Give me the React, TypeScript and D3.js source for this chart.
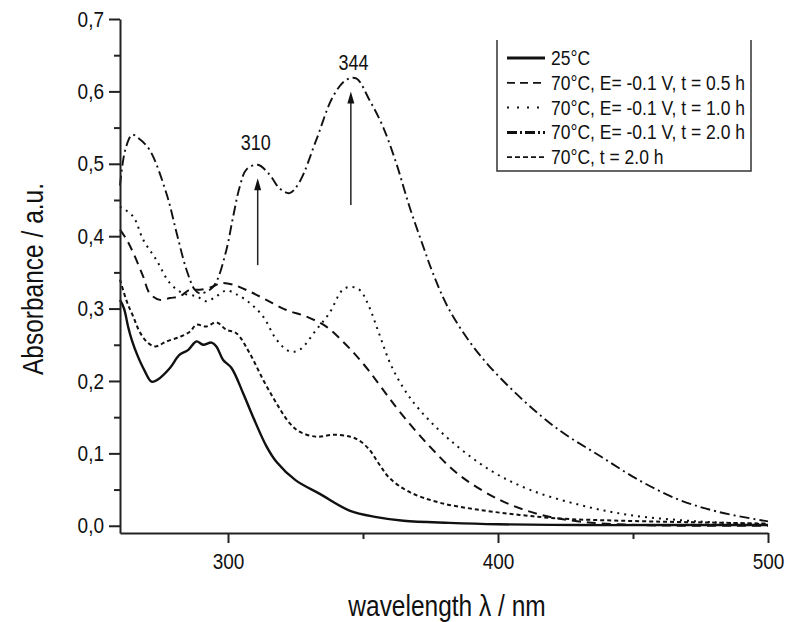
import React, { useEffect, useRef } from "react";
import * as d3 from "d3";

// 25°C
const nm25 = [260, 261.5, 263, 264.5, 266.5, 269, 271.7, 274, 278.5, 282, 285.3, 288.3, 290.8, 293.9, 295.7, 298.2, 301.3, 305.6, 309.2, 314.2, 318, 325, 334, 345, 355, 365, 382, 400, 430, 460, 500];
const abs25 = [0.312, 0.3, 0.275, 0.255, 0.235, 0.215, 0.199, 0.202, 0.218, 0.236, 0.243, 0.2546, 0.25, 0.253, 0.2477, 0.229, 0.218, 0.183, 0.151, 0.11, 0.088, 0.063, 0.044, 0.021, 0.012, 0.007, 0.004, 0.002, 0.001, 0.001, 0.001];

// 70°C, E= -0.1 V, t = 0.5 h
const nm05 = [260, 262.5, 264.9, 268.6, 271, 274.8, 278.5, 282.2, 285.9, 289.6, 294.5, 297, 301.9, 308, 314.2, 321.6, 329, 336.4, 342.5, 347, 352, 357, 363.5, 374.6, 385.7, 400.5, 415, 430, 452, 500];
const abs05 = [0.409, 0.395, 0.377, 0.344, 0.321, 0.312, 0.3145, 0.317, 0.326, 0.326, 0.3305, 0.335, 0.333, 0.3236, 0.312, 0.298, 0.289, 0.275, 0.2546, 0.237, 0.215, 0.19, 0.158, 0.11, 0.07, 0.036, 0.016, 0.006, 0.001, 0.0];

// 70°C, E= -0.1 V, t = 1.0 h
const nm10 = [260, 264.9, 268.6, 273.5, 278.5, 283.4, 288.3, 292, 295.7, 299.4, 303, 308, 313, 318, 322.8, 326.5, 332.7, 337.6, 342.5, 346, 349, 352, 356, 360, 365, 371, 382, 397, 411.6, 430, 448.5, 474, 500];
const abs10 = [0.441, 0.427, 0.395, 0.367, 0.335, 0.321, 0.317, 0.31, 0.317, 0.325, 0.32, 0.308, 0.289, 0.257, 0.241, 0.243, 0.2707, 0.294, 0.326, 0.33, 0.325, 0.305, 0.265, 0.225, 0.19, 0.16, 0.119, 0.077, 0.05, 0.029, 0.015, 0.006, 0.002];

// 70°C, E= -0.1 V, t = 2.0 h
const nm20E = [260, 262, 264.5, 267, 271, 277.2, 281, 284.6, 287.7, 289.6, 293.3, 295.7, 299.4, 301.9, 304.4, 306.8, 311, 315.4, 319.1, 322.8, 326.5, 332.7, 338.9, 343.8, 347.5, 352.4, 357.3, 362.3, 367.2, 372.1, 376, 382, 393, 408, 422.7, 437.5, 452.2, 467, 481.8, 500];
const abs20E = [0.47, 0.52, 0.54, 0.535, 0.519, 0.459, 0.404, 0.354, 0.326, 0.321, 0.326, 0.337, 0.381, 0.427, 0.469, 0.492, 0.4986, 0.485, 0.466, 0.4595, 0.475, 0.533, 0.593, 0.616, 0.618, 0.588, 0.552, 0.501, 0.441, 0.388, 0.348, 0.298, 0.237, 0.178, 0.132, 0.097, 0.063, 0.036, 0.019, 0.006];

// 70°C, t = 2.0 h
const nm20 = [260, 262.5, 264.9, 267, 269.8, 273, 277.2, 282.2, 285.9, 288.3, 292, 295.7, 299.4, 303.1, 308, 313, 317.9, 322.8, 326.5, 332.7, 338.9, 345, 348.5, 352.4, 356, 359.8, 367, 378.3, 393, 408, 422.7, 445, 470, 500];
const abs20 = [0.34, 0.31, 0.289, 0.27, 0.2546, 0.2477, 0.2546, 0.261, 0.268, 0.2776, 0.2753, 0.281, 0.2707, 0.266, 0.2385, 0.2017, 0.1695, 0.1418, 0.13, 0.123, 0.1257, 0.1234, 0.118, 0.105, 0.085, 0.066, 0.047, 0.032, 0.022, 0.015, 0.01, 0.007, 0.005, 0.003];

const xTicks = [300, 400, 500];
const xMinor = [350, 450];
const yTicks = [0, 0.1, 0.2, 0.3, 0.4, 0.5, 0.6, 0.7];
const yMinor = [0.05, 0.15, 0.25, 0.35, 0.45, 0.55, 0.65];

// peak markers: label, wavelength of arrow, arrow from / to
const peakLabels = ["310", "344"];
const peakNm = [311, 345.5];
const arrowFrom = [0.36, 0.443];
const arrowTo = [0.48, 0.6];
const labelNm = [310.3, 346.5];
const labelAbs = [0.519, 0.63];

const series = [
  { label: "25°C", nm: nm25, abs: abs25, dash: null, width: 2.4, legDash: null, legWidth: 3 },
  { label: "70°C, E= -0.1 V, t = 0.5 h", nm: nm05, abs: abs05, dash: "9,6", width: 2, legDash: "8,5", legWidth: 1.8 },
  { label: "70°C, E= -0.1 V, t = 1.0 h", nm: nm10, abs: abs10, dash: "2,5", width: 2, legDash: "2,8", legWidth: 2 },
  { label: "70°C, E= -0.1 V, t = 2.0 h", nm: nm20E, abs: abs20E, dash: "10,4,2,4", width: 1.9, legDash: "10,3,2,3", legWidth: 3 },
  { label: "70°C, t = 2.0 h", nm: nm20, abs: abs20, dash: "4,3", width: 2, legDash: "5,3", legWidth: 1.8 },
];

const FONT = "'Liberation Sans', Arial, sans-serif";
const STRETCH = 1.18; // text in the picture is a bit taller than wide

function addText(g: any, x: number, y: number, str: string, size: number, anchor = "start", rot = 0) {
  return g
    .append("text")
    .attr("transform", `translate(${x},${y}) rotate(${rot}) scale(1,${STRETCH})`)
    .attr("text-anchor", anchor)
    .attr("font-family", FONT)
    .attr("font-size", size)
    .attr("fill", "#111")
    .text(str);
}

function drawChart(el: SVGSVGElement) {
  const w = 788;
  const h = 622;
  const svg = d3.select(el);
  svg.selectAll("*").remove();
  svg.attr("width", w).attr("height", h);

  const x = d3.scaleLinear().domain([260, 500]).range([120, 768]);
  const y = d3.scaleLinear().domain([-0.01, 0.7]).range([533, 19]);

  // curves
  series.forEach((s) => {
    const pts: [number, number][] = s.nm.map((n, i) => [x(n), y(s.abs[i])]);
    const path = svg
      .append("path")
      .attr("d", d3.line().curve(d3.curveCatmullRom.alpha(0.5))(pts))
      .attr("fill", "none")
      .attr("stroke", "#111")
      .attr("stroke-width", s.width)
      .attr("stroke-linejoin", "round");
    if (s.dash) path.attr("stroke-dasharray", s.dash);
  });

  // axes
  const fmt = (d: number) => d3.format(".1f")(d).replace(".", ",");
  svg
    .append("g")
    .attr("transform", "translate(120,0)")
    .call(d3.axisLeft(y).tickValues(yTicks).tickFormat(fmt as any).tickSize(11).tickSizeOuter(0).tickPadding(5));
  svg
    .append("g")
    .attr("transform", "translate(120,0)")
    .call(d3.axisLeft(y).tickValues(yMinor).tickFormat(() => "").tickSize(6).tickSizeOuter(0))
    .call((g) => g.select(".domain").remove());

  svg
    .append("g")
    .attr("transform", "translate(0,533)")
    .call(d3.axisBottom(x).tickValues(xTicks).tickFormat(d3.format("d") as any).tickSize(10).tickSizeOuter(0).tickPadding(7));
  svg
    .append("g")
    .attr("transform", "translate(0,533)")
    .call(d3.axisBottom(x).tickValues(xMinor).tickFormat(() => "").tickSize(6).tickSizeOuter(0))
    .call((g) => g.select(".domain").remove());

  svg.selectAll(".domain, .tick line").attr("stroke", "#222").attr("stroke-width", 2);
  svg
    .selectAll(".tick text")
    .attr("font-family", FONT)
    .attr("font-size", 19)
    .attr("fill", "#111")
    .attr("transform", `scale(1,${STRETCH})`);

  // axis titles
  addText(svg, 447, 616, "wavelength λ / nm", 24.5, "middle");
  addText(svg, 43, 279, "Absorbance / a.u.", 24.5, "middle", -90);

  // peak arrows
  peakLabels.forEach((lab, i) => {
    const ax = x(peakNm[i]);
    const y0 = y(arrowFrom[i]);
    const y1 = y(arrowTo[i]);
    svg
      .append("line")
      .attr("x1", ax)
      .attr("x2", ax)
      .attr("y1", y0)
      .attr("y2", y1 + 8)
      .attr("stroke", "#222")
      .attr("stroke-width", 1.5);
    svg
      .append("path")
      .attr("d", `M${ax},${y1} L${ax - 3.5},${y1 + 12} L${ax + 3.5},${y1 + 12} Z`)
      .attr("fill", "#111");
    addText(svg, x(labelNm[i]), y(labelAbs[i]), lab, 18, "middle");
  });

  // legend
  const lg = svg.append("g");
  lg.append("path")
    .attr("d", "M497,40V171H751V40")
    .attr("fill", "none")
    .attr("stroke", "#333")
    .attr("stroke-width", 1.5);
  series.forEach((s, i) => {
    const cy = 58 + i * 24.8;
    const l = lg
      .append("line")
      .attr("x1", 507)
      .attr("x2", 545)
      .attr("y1", cy)
      .attr("y2", cy)
      .attr("stroke", "#111")
      .attr("stroke-width", s.legWidth);
    if (s.legDash) l.attr("stroke-dasharray", s.legDash);
    addText(lg, 551, cy + 7, s.label, 17.5);
  });
}

export default function App() {
  const ref = useRef<SVGSVGElement>(null);
  useEffect(() => {
    if (ref.current) drawChart(ref.current);
  }, []);
  return (
    <div style={{ position: "absolute", left: 0, top: 0 }}>
      <svg ref={ref} style={{ display: "block", background: "#fff" }} />
    </div>
  );
}
